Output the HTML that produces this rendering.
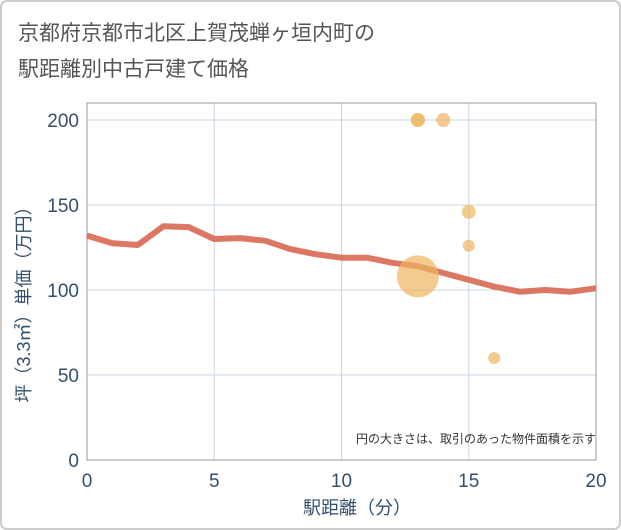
<!DOCTYPE html>
<html><head><meta charset="utf-8"><style>
body{margin:0;background:#fff;}
svg{display:block;font-family:"Liberation Sans","Noto Sans CJK JP",sans-serif;}
</style></head><body>
<svg id="c" width="621" height="530" viewBox="0 0 621 530">
<rect x="1" y="1" width="619" height="528" rx="6" fill="#fff" stroke="#ccc" stroke-width="2"/>
<text x="18" y="40" font-size="21" fill="#555">京都府京都市北区上賀茂蝉ヶ垣内町の</text>
<text x="18" y="76" font-size="21" fill="#555">駅距離別中古戸建て価格</text>
<g id="grid"></g>
<rect x="87" y="103" width="509" height="357" fill="none" stroke="#999"/>
<g id="marks"></g>
<text x="596" y="443" font-size="12" fill="#333" text-anchor="end">円の大きさは、取引のあった物件面積を示す</text>
<text x="357" y="514" font-size="18" fill="#33506a" text-anchor="middle">駅距離（分）</text>
<text transform="translate(30,300) rotate(-90)" font-size="18" fill="#33506a" text-anchor="middle">坪（3.3㎡）単価（万円）</text>
</svg>
<script>
const lineMinutes=[0,1,2,3,4,5,6,7,8,9,10,11,12,13,14,15,16,17,18,19,20];
const linePrices=[132,127.5,126.5,137.5,137,130,130.5,129,124,121,119,119,116,114,110,106,102,99,100,99,101];
const dotMinutes=[13,14,15,15,13,16,13];
const dotPrices=[200,200,146,126,108,60,200];
const dotRadius=[7,7,7,6,21,6,7];
const xTicks=[0,5,10,15,20];
const yTicks=[0,50,100,150,200];
const X=v=>87+v*509/20, Y=v=>460-v*1.7;
const NS="http://www.w3.org/2000/svg";
const g=document.getElementById('grid'), m=document.getElementById('marks');
function mk(t,a,p){const e=document.createElementNS(NS,t);for(const k in a)e.setAttribute(k,a[k]);p.appendChild(e);return e;}
xTicks.forEach(t=>{
 const l=mk('line',{x1:X(t),x2:X(t),y1:103,y2:460,stroke:'#c8d6e2'},g);
 
 
 const s=mk('text',{x:X(t),y:487,'font-size':19,fill:'#33506a','text-anchor':'middle'},g);s.textContent=t;
 
 
});
yTicks.forEach(t=>{
 const l=mk('line',{x1:87,x2:596,y1:Y(t),y2:Y(t),stroke:'#c8d6e2'},g);
 
 
 const s=mk('text',{x:79,y:Y(t)+7,'font-size':19,fill:'#33506a','text-anchor':'end'},g);s.textContent=t;
 
 
});
const pl=mk('polyline',{points:lineMinutes.map((v,i)=>X(v)+','+Y(linePrices[i])).join(' '),fill:'none',stroke:'#d9705a',"stroke-width":6,"stroke-linejoin":"round",opacity:0.95},m);


dotMinutes.forEach((v,i)=>{
 const c=mk('circle',{cx:X(v),cy:Y(dotPrices[i]),r:dotRadius[i],fill:'#f0b560',opacity:0.7},m);
 
 
});
</script>
</body></html>
